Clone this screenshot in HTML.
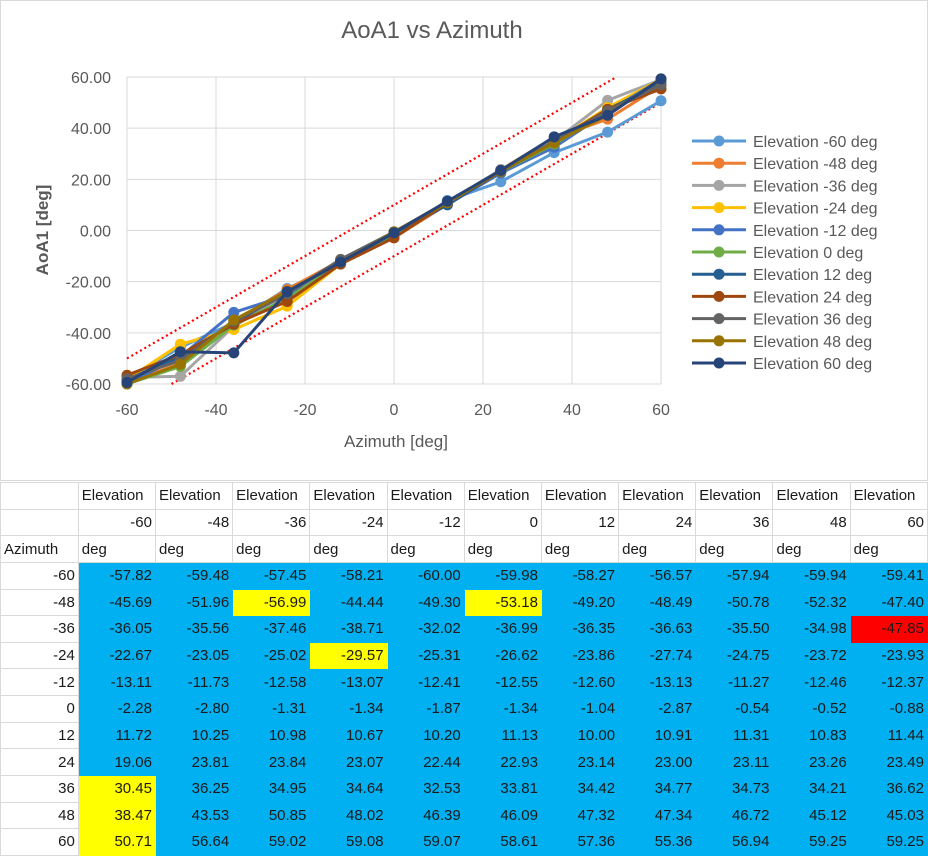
<!DOCTYPE html>
<html><head><meta charset="utf-8">
<style>
body{margin:0;width:928px;height:855px;background:#fff;font-family:"Liberation Sans",sans-serif;overflow:hidden;position:relative}
#chart{position:absolute;left:0;top:0}
#tbl{position:absolute;left:0;top:482px;border-collapse:collapse;table-layout:fixed}
#tbl tr{height:26.64px}
#tbl td{border:1px solid #d9d9d9;height:26.64px;padding:0 3px;font-size:15px;color:#1a1a1a;white-space:nowrap;overflow:hidden;box-sizing:border-box}
</style></head><body>
<svg id="chart" width="928" height="481"></svg>
<table id="tbl"></table>
<script>
const azimuths=[-60,-48,-36,-24,-12,0,12,24,36,48,60];
const elevations=[-60,-48,-36,-24,-12,0,12,24,36,48,60];
const xTicks=[-60,-40,-20,0,20,40,60];
const yTicks=[-60,-40,-20,0,20,40,60];
const colors=["#5b9bd5","#ed7d31","#a5a5a5","#ffc000","#4472c4","#70ad47","#255e91","#9e480e","#636363","#997300","#264478"];
// rows = azimuth, cols = elevation
const r0=[-57.82,-59.48,-57.45,-58.21,-60.00,-59.98,-58.27,-56.57,-57.94,-59.94,-59.41];
const r1=[-45.69,-51.96,-56.99,-44.44,-49.30,-53.18,-49.20,-48.49,-50.78,-52.32,-47.40];
const r2=[-36.05,-35.56,-37.46,-38.71,-32.02,-36.99,-36.35,-36.63,-35.50,-34.98,-47.85];
const r3=[-22.67,-23.05,-25.02,-29.57,-25.31,-26.62,-23.86,-27.74,-24.75,-23.72,-23.93];
const r4=[-13.11,-11.73,-12.58,-13.07,-12.41,-12.55,-12.60,-13.13,-11.27,-12.46,-12.37];
const r5=[-2.28,-2.80,-1.31,-1.34,-1.87,-1.34,-1.04,-2.87,-0.54,-0.52,-0.88];
const r6=[11.72,10.25,10.98,10.67,10.20,11.13,10.00,10.91,11.31,10.83,11.44];
const r7=[19.06,23.81,23.84,23.07,22.44,22.93,23.14,23.00,23.11,23.26,23.49];
const r8=[30.45,36.25,34.95,34.64,32.53,33.81,34.42,34.77,34.73,34.21,36.62];
const r9=[38.47,43.53,50.85,48.02,46.39,46.09,47.32,47.34,46.72,45.12,45.03];
const r10=[50.71,56.64,59.02,59.08,59.07,58.61,57.36,55.36,56.94,59.25,59.25];
const rows=[r0,r1,r2,r3,r4,r5,r6,r7,r8,r9,r10];
const NS="http://www.w3.org/2000/svg";
const svg=document.getElementById('chart');
const L=127,R=661,T=77,B=384;
const xs=v=>L+(v+60)/120*(R-L);
const ys=v=>B-(v+60)/120*(B-T);
function mk(tag,attrs,parent){const e=document.createElementNS(NS,tag);for(const k in attrs)e.setAttribute(k,attrs[k]);(parent||svg).appendChild(e);return e;}
let fr=mk('rect',{x:0.5,y:0.5,width:927,height:480,fill:'#fff',stroke:'#d9d9d9'});


let t=mk('text',{x:432,y:38,'text-anchor':'middle','font-size':24,fill:'#595959'});t.textContent='AoA1 vs Azimuth';


xTicks.forEach(v=>{mk('line',{x1:xs(v),x2:xs(v),y1:T,y2:B,stroke:'#d9d9d9'});
 let tx=mk('text',{x:xs(v),y:B+31,'text-anchor':'middle','font-size':16,fill:'#595959'});tx.textContent=v;
 
 });
yTicks.forEach(v=>{mk('line',{x1:L,x2:R,y1:ys(v),y2:ys(v),stroke:'#d9d9d9'});
 let tx=mk('text',{x:L-16,y:ys(v)+6,'text-anchor':'end','font-size':16,fill:'#595959'});tx.textContent=v.toFixed(2);
 
 });
let xt=mk('text',{x:396,y:447,'text-anchor':'middle','font-size':17,fill:'#595959'});xt.textContent='Azimuth [deg]';


let yt=mk('text',{x:0,y:0,'text-anchor':'middle','font-size':17,fill:'#595959','font-weight':'bold',transform:'translate(48,230) rotate(-90)'});yt.textContent='AoA1 [deg]';


// tolerance lines y = x ± 10
const tol=[10,-10];
tol.forEach(d=>{const x0=Math.max(-60,-60-d),x1=Math.min(60,60-d);
 let ln=mk('line',{x1:xs(x0),y1:ys(x0+d),x2:xs(x1),y2:ys(x1+d),stroke:'#ff0000','stroke-width':2.2,'stroke-dasharray':'2 3'});
 
 });
elevations.forEach((e,j)=>{
 const g=mk('g',{});
 
 
 const pts=azimuths.map((a,i)=>xs(a)+','+ys(rows[i][j])).join(' ');
 mk('polyline',{points:pts,fill:'none',stroke:colors[j],'stroke-width':3},g);
 azimuths.forEach((a,i)=>{let c=mk('circle',{cx:xs(a),cy:ys(rows[i][j]),r:5.5,fill:colors[j]},g);
  
  });
 const ly=141+j*22.2;
 const lg=mk('g',{});
 
 
 mk('line',{x1:692,x2:746,y1:ly,y2:ly,stroke:colors[j],'stroke-width':3},lg);
 mk('circle',{cx:719,cy:ly,r:5.5,fill:colors[j]},lg);
 let lt=mk('text',{x:753,y:ly+6,'font-size':16,fill:'#595959'},lg);lt.textContent='Elevation '+e+' deg';
});
// table
const tbl=document.getElementById('tbl');
const widths=[78].concat(elevations.map(()=>77.3));
const cg=document.createElement('colgroup');widths.forEach(w=>{const c=document.createElement('col');c.style.width=w+'px';cg.appendChild(c);});tbl.appendChild(cg);
const yellow={'1,2':1,'3,3':1,'1,5':1,'8,0':1,'9,0':1,'10,0':1};
const red={'2,10':1};
function row(cells,name){const tr=document.createElement('tr');cells.forEach(c=>tr.appendChild(c));tbl.appendChild(tr);}
function cell(txt,align,bg,name){const td=document.createElement('td');td.textContent=txt;td.style.textAlign=align;if(bg){td.style.background=bg;td.style.borderColor=bg;}
 
 return td;}
row([cell('','left',null,'corner-cell')].concat(elevations.map(()=>cell('Elevation','left',null,'header-cell'))),'header-row-1');
row([cell('','left',null,'corner-cell')].concat(elevations.map(e=>cell(e,'right',null,'elevation-cell'))),'header-row-2');
row([cell('Azimuth','left',null,'azimuth-header')].concat(elevations.map(()=>cell('deg','left',null,'unit-cell'))),'header-row-3');
rows.forEach((r,i)=>{row([cell(azimuths[i],'right',null,'azimuth-cell')].concat(r.map((v,j)=>{const k=i+','+j;return cell(v.toFixed(2),'right',yellow[k]?'#ffff00':red[k]?'#ff0000':'#00b0f0','value-cell');})),'data-row');});
</script>
</body></html>
